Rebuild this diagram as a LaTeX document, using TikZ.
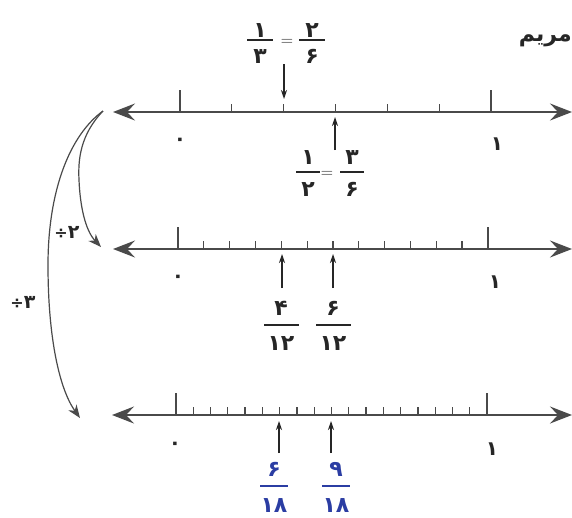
\documentclass[tikz,border=0pt]{standalone}
\usepackage{fontspec}
\TeXXeTstate=1
\newfontfamily\fa[Script=Arabic]{DejaVu Sans}
\newfontfamily\djv{DejaVu Sans}
\usetikzlibrary{arrows.meta}
\definecolor{ln}{HTML}{4A4A4A}
\definecolor{hb}{HTML}{2B3DA3}
\definecolor{ink}{HTML}{262626}
\begin{document}
\begin{tikzpicture}[x=1pt,y=-1pt,
  nl/.style={draw=ln, line width=1.8pt, {Stealth[length=22pt,width=17pt,inset=8pt]}-{Stealth[length=22pt,width=17pt,inset=8pt]}},
  tk/.style={draw=ln, line width=1.3pt},
  pa/.style={draw=ink, line width=1.2pt, -{Stealth[length=9pt,width=6pt]}},
  ca/.style={draw=ln, line width=1.2pt, -{Stealth[length=13pt,width=10pt,inset=4pt]}},
  bar/.style={draw=ink, line width=1.6pt},
  dg/.style={font=\fa\bfseries\fontsize{22}{22}\selectfont, inner sep=0pt, anchor=base, text=ink},
  lb/.style={font=\fa\bfseries\fontsize{20}{20}\selectfont, inner sep=0pt, anchor=base, text=ink},
  eq/.style={font=\fontsize{17}{17}\selectfont, inner sep=0pt, anchor=base, text=ink},
  bl/.style={font=\fa\bfseries\fontsize{22}{22}\selectfont, inner sep=0pt, anchor=base, text=hb},
  bbar/.style={draw=hb, line width=1.8pt}
]
\useasboundingbox[fill=white] (0,0) rectangle (572,517);

% title
\node[font=\fa\bfseries\fontsize{22}{22}\selectfont, inner sep=0pt, anchor=base east, text=ink] (name) at (572,41) {\beginR مریم\endR};

% ---------- number line 1 (sixths)
\coordinate (L1a) at (113,112);
\coordinate (L1b) at (572,112);
\draw[nl] (L1a) -- (L1b);
\draw[tk] (180,112) -- ++(0,-22);
\draw[tk] (491,112) -- ++(0,-22);
\foreach \k in {1,...,5} \draw[tk] ({180+\k*51.83},112) -- ++(0,-8);
\node[lb] (z1) at (180,145) {۰};
\node[lb] (o1) at (497,150) {۱};

% top fraction 1/3 = 2/6
\node[dg] (t1n) at (260,37) {۱};
\draw[bar] (247,40) -- (273,40);
\node[dg] (t1d) at (260,63) {۳};
\node[eq] (teq) at (287,45) {=};
\node[dg] (t2n) at (312,37) {۲};
\draw[bar] (299,40) -- (325,40);
\node[dg] (t2d) at (312,63) {۶};
\coordinate (ta) at (284,64);
\coordinate (tb) at (284,99);
\draw[pa] (ta) -- (tb);

% fraction under line 1: 1/2 = 3/6
\coordinate (ua) at (335,150);
\coordinate (ub) at (335,117);
\draw[pa] (ua) -- (ub);
\node[dg] (u1n) at (308,164) {۱};
\draw[bar] (296,172) -- (320,172);
\node[dg] (u1d) at (308,196) {۲};
\node[eq] (ueq) at (327,177) {=};
\node[dg] (u2n) at (352,164) {۳};
\draw[bar] (340,172) -- (364,172);
\node[dg] (u2d) at (352,196) {۶};

% ---------- number line 2 (twelfths)
\coordinate (L2a) at (113,249);
\coordinate (L2b) at (572,249);
\draw[nl] (L2a) -- (L2b);
\draw[tk] (178,249) -- ++(0,-22);
\draw[tk] (488,249) -- ++(0,-22);
\foreach \k in {1,...,11} \draw[tk] ({178+\k*25.83},249) -- ++(0,-8);
\node[lb] (z2) at (178,282) {۰};
\node[lb] (o2) at (495,288) {۱};
\coordinate (v1a) at (282,288);
\coordinate (v1b) at (282,254);
\draw[pa] (v1a) -- (v1b);
\coordinate (v2a) at (333,288);
\coordinate (v2b) at (333,254);
\draw[pa] (v2a) -- (v2b);
\node[dg] (f1n) at (281,315) {۴};
\draw[bar] (264,325) -- (299,325);
\node[dg] (f1d) at (281,350) {۱۲};
\node[dg] (f2n) at (333,315) {۶};
\draw[bar] (316,325) -- (351,325);
\node[dg] (f2d) at (333,350) {۱۲};

% ---------- number line 3 (eighteenths)
\coordinate (L3a) at (112,415);
\coordinate (L3b) at (572,415);
\draw[nl] (L3a) -- (L3b);
\draw[tk] (176,415) -- ++(0,-22);
\draw[tk] (487,415) -- ++(0,-22);
\foreach \k in {1,...,17} \draw[tk] ({176+\k*17.28},415) -- ++(0,-8);
\node[lb] (z3) at (175,449) {۰};
\node[lb] (o3) at (492,455) {۱};
\coordinate (w1a) at (279,453);
\coordinate (w1b) at (279,421);
\draw[pa] (w1a) -- (w1b);
\coordinate (w2a) at (331,453);
\coordinate (w2b) at (331,421);
\draw[pa] (w2a) -- (w2b);
\node[bl] (g1n) at (274,476) {۶};
\draw[bbar] (260,486) -- (288,486);
\node[bl] (g1d) at (274,512) {۱۸};
\node[bl] (g2n) at (336,476) {۹};
\draw[bbar] (322,486) -- (350,486);
\node[bl] (g2d) at (336,512) {۱۸};

% ---------- curved arrows
\coordinate (cs) at (103,111);
\coordinate (ce2) at (101,247);
\coordinate (ce3) at (80,418);
\draw[ca] (cs) .. controls (80,135) and (78,160) .. (79,180)
               .. controls (80,205) and (85,230) .. (ce2);
\draw[ca] (cs) .. controls (70,135) and (48,190) .. (48,265)
               .. controls (48,340) and (60,390) .. (ce3);
\node[inner sep=0pt, anchor=base, text=ink] (d2) at (67,238) {{\djv\bfseries\fontsize{16}{16}\selectfont ÷}{\fa\bfseries\fontsize{19}{19}\selectfont ۲}};
\node[inner sep=0pt, anchor=base, text=ink] (d3) at (23,308) {{\djv\bfseries\fontsize{16}{16}\selectfont ÷}{\fa\bfseries\fontsize{19}{19}\selectfont ۳}};
\end{tikzpicture}
\end{document}
